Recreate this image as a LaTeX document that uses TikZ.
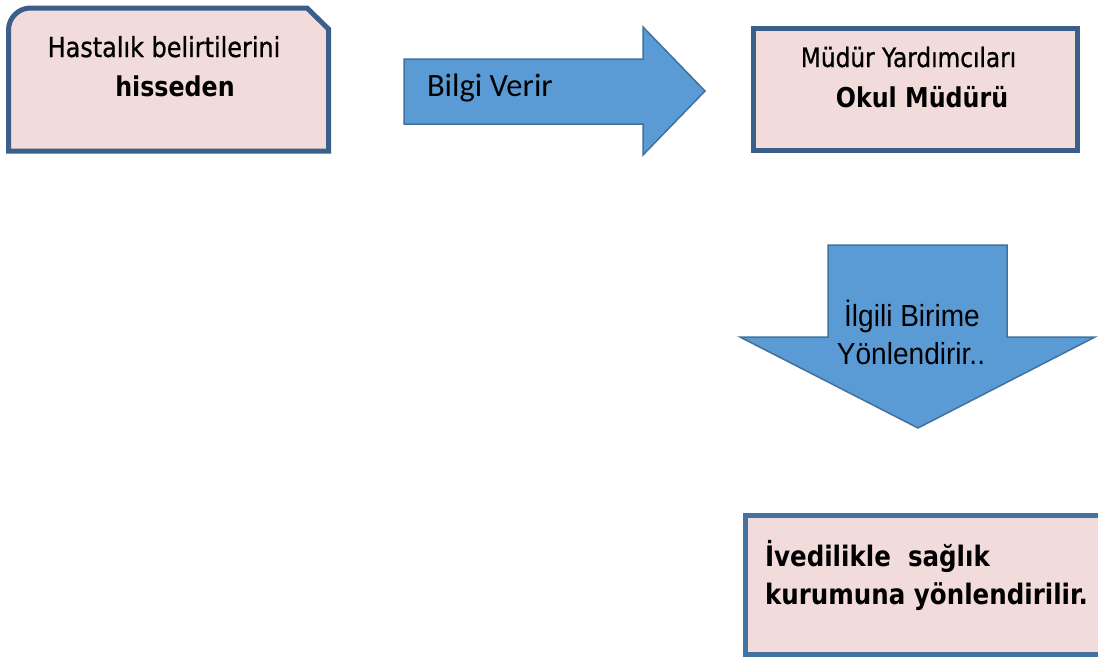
\documentclass[tikz,border=0pt]{standalone}
\usepackage{fontspec}
\newfontfamily\tahfont[FakeStretch=0.87]{DejaVu Sans}
\newfontfamily\tahregfont[FakeStretch=0.87,FakeBold=0.8]{DejaVu Sans}
\newfontfamily\califont{Carlito}
\newfontfamily\arlfont[FakeStretch=0.92]{Liberation Sans}
\definecolor{boxfill}{HTML}{F2DCDB}
\definecolor{boxline}{HTML}{3A5F8B}
\definecolor{boxlineb}{HTML}{4472A4}
\definecolor{arrowfill}{HTML}{5B9BD5}
\definecolor{arrowline}{HTML}{41719C}
\tikzset{
  boxshape/.style={fill=boxfill, draw=boxline, line width=5pt, line join=miter},
  arrowshape/.style={fill=arrowfill, draw=arrowline, line width=1.5pt, line join=miter},
  lbl/.style={inner sep=0pt, outer sep=0pt, text=black},
  tahreg/.style={lbl, font=\tahregfont\fontsize{27.5}{30}\selectfont},
  tahregb/.style={lbl, font=\tahregfont\fontsize{26.7}{30}\selectfont},
  tahbold/.style={lbl, font=\tahfont\bfseries\fontsize{27.3}{30}\selectfont},
  tahbig/.style={lbl, font=\tahfont\bfseries\fontsize{28.2}{30}\selectfont},
  calreg/.style={lbl, font=\califont\fontsize{32.5}{36}\selectfont},
  arlreg/.style={lbl, font=\arlfont\fontsize{30.5}{34}\selectfont},
}
\begin{document}
\begin{tikzpicture}[x=1pt, y=-1pt]
\useasboundingbox (0,0) rectangle (1098,657);
\fill[white] (0,0) rectangle (1098,657);
% box 1
\draw[boxshape] (8.5,151) -- (8.5,30) .. controls (8.5,17.9) and (18.4,8) .. (30.5,8)
  -- (307,8) -- (328.5,29) -- (328.5,151) -- cycle;
\node[tahreg, anchor=base] (t1a) at (164,57) {Hastalık belirtilerini};
\node[tahbold, anchor=base] (t1b) at (175,96) {hisseden};
% right arrow
\draw[arrowshape] (404,59) -- (643,59) -- (643,27) -- (705,91) -- (643,155) -- (643,124) -- (404,124) -- cycle;
\node[calreg, anchor=base west] (a1) at (427,96) {Bilgi Verir};
% box 2
\draw[boxshape] (753.5,28.5) rectangle (1077.5,150);
\node[tahregb, anchor=base] (t2a) at (908.5,67) {Müdür Yardımcıları};
\node[tahbold, anchor=base] (t2b) at (922,107) {Okul Müdürü};
% down arrow
\draw[arrowshape] (828,245) -- (1007,245) -- (1007,337) -- (1095,337) -- (918,428) -- (740,337) -- (828,337) -- cycle;
\node[arlreg, anchor=base] (a2a) at (912,326) {İlgili Birime};
\node[arlreg, anchor=base] (a2b) at (911,364) {Yönlendirir..};
% box 3 (cut at the right edge)
\begin{scope}
\clip (0,0) rectangle (1098,657);
\draw[boxshape, draw=boxlineb] (745.5,515.5) rectangle (1110,654.5);
\end{scope}
\node[tahbig, anchor=base west] (t3a) at (765,566) {İvedilikle\ \ sağlık};
\node[tahbig, anchor=base west] (t3b) at (765,604) {kurumuna yönlendirilir.};
\end{tikzpicture}
\end{document}
